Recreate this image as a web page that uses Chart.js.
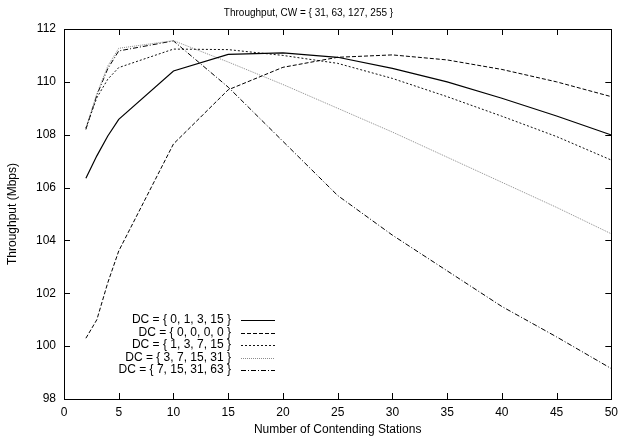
<!DOCTYPE html>
<html>
<head>
<meta charset="utf-8">
<script src="https://cdn.jsdelivr.net/npm/chart.js@4.4.1/dist/chart.umd.min.js"></script>
<style>
html, body { margin: 0; padding: 0; background: #fff; }
#wrap { width: 624px; height: 441px; }
</style>
</head>
<body>
<div id="wrap"><canvas id="chart"></canvas></div>
<script>
// stations on the x axis
const stations = [2, 3, 4, 5, 10, 15, 20, 25, 30, 35, 40, 45, 50];

const seriesNames = [
  'DC = { 0, 1, 3, 15 }',
  'DC = { 0, 0, 0, 0 }',
  'DC = { 1, 3, 7, 15 }',
  'DC = { 3, 7, 15, 31 }',
  'DC = { 7, 15, 31, 63 }'
];

// throughput in Mbps
const dc0_1_3_15 = [106.35, 107.2, 107.95, 108.58, 110.41, 111.04, 111.1, 110.93, 110.51, 110.0, 109.38, 108.71, 107.99];
const dc0_0_0_0 = [100.3, 101.0, 102.4, 103.6, 107.65, 109.7, 110.55, 110.93, 111.02, 110.83, 110.47, 110.0, 109.44];
const dc1_3_7_15 = [108.25, 109.4, 110.1, 110.54, 111.24, 111.22, 111.0, 110.7, 110.13, 109.44, 108.7, 107.93, 107.04];
const dc3_7_15_31 = [108.25, 109.55, 110.6, 111.27, 111.56, 110.75, 109.9, 109.0, 108.1, 107.15, 106.2, 105.25, 104.25];
const dc7_15_31_63 = [108.2, 109.5, 110.5, 111.17, 111.55, 109.8, 107.75, 105.7, 104.2, 102.85, 101.5, 100.35, 99.15];

const FONT = '"Liberation Sans", Arial, Helvetica, sans-serif';

function pts(vals) {
  return vals.map((v, i) => ({ x: stations[i], y: v }));
}

function ds(label, vals, color, dash, width) {
  return {
    label: label,
    data: pts(vals),
    borderColor: color,
    borderDash: dash,
    borderWidth: width,
    pointRadius: 0,
    tension: 0,
    fill: false
  };
}

// frame, inward ticks on all sides, and the legend inside the plot
const gnuplotLook = {
  id: 'gnuplotLook',
  afterDraw(chart) {
    const { ctx, chartArea: a, scales: { x, y } } = chart;
    ctx.save();
    ctx.strokeStyle = '#000';
    ctx.lineWidth = 1;
    ctx.setLineDash([]);
    ctx.strokeRect(Math.round(a.left) + 0.5, Math.round(a.top) + 0.5,
      Math.round(a.width), Math.round(a.height));
    const len = 6;
    ctx.beginPath();
    x.ticks.forEach(t => {
      const px = Math.round(x.getPixelForValue(t.value)) + 0.5;
      ctx.moveTo(px, a.bottom); ctx.lineTo(px, a.bottom - len);
      ctx.moveTo(px, a.top); ctx.lineTo(px, a.top + len);
    });
    y.ticks.forEach(t => {
      const py = Math.round(y.getPixelForValue(t.value)) + 0.5;
      ctx.moveTo(a.left, py); ctx.lineTo(a.left + len, py);
      ctx.moveTo(a.right, py); ctx.lineTo(a.right - len, py);
    });
    ctx.stroke();

    // legend
    ctx.font = '12px ' + FONT;
    ctx.fillStyle = '#000';
    ctx.textAlign = 'right';
    ctx.textBaseline = 'middle';
    chart.data.datasets.forEach((d, i) => {
      const ly = 320 + i * 12.5;
      ctx.fillText(d.label, 231, ly);
      ctx.beginPath();
      ctx.strokeStyle = d.borderColor;
      ctx.lineWidth = d.borderWidth;
      ctx.setLineDash(d.borderDash || []);
      ctx.moveTo(241, Math.round(ly) + 0.5);
      ctx.lineTo(275, Math.round(ly) + 0.5);
      ctx.stroke();
    });
    ctx.restore();
  }
};

new Chart(document.getElementById('chart'), {
  type: 'line',
  data: {
    datasets: [
      ds(seriesNames[0], dc0_1_3_15, '#000', [], 1.2),
      ds(seriesNames[1], dc0_0_0_0, '#000', [4, 2], 1),
      ds(seriesNames[2], dc1_3_7_15, '#111', [2, 2], 1),
      ds(seriesNames[3], dc3_7_15_31, '#8c8c8c', [1, 1], 1),
      ds(seriesNames[4], dc7_15_31_63, '#000', [5, 2, 1, 2], 1)
    ]
  },
  options: {
    responsive: true,
    maintainAspectRatio: false,
    animation: false,
    devicePixelRatio: 1,
    layout: { padding: { left: 0, right: 7, top: 0, bottom: 0 } },
    plugins: {
      legend: { display: false },
      tooltip: { enabled: false },
      title: {
        display: true,
        text: 'Throughput, CW = { 31, 63, 127, 255 }',
        color: '#000',
        font: { family: FONT, size: 10, weight: 'normal' },
        padding: { top: 7, bottom: 10 }
      }
    },
    scales: {
      x: {
        type: 'linear',
        min: 0,
        max: 50,
        afterFit: s => { s.height = 42; },
        grid: { display: false, drawTicks: false },
        border: { display: false },
        ticks: { stepSize: 5, color: '#000', padding: 6, maxRotation: 0,
          font: { family: FONT, size: 12 } },
        title: { display: true, text: 'Number of Contending Stations', color: '#000',
          font: { family: FONT, size: 12 }, padding: { top: 0, bottom: 4 } }
      },
      y: {
        min: 98,
        max: 112,
        afterFit: s => { s.width = 64; },
        grid: { display: false, drawTicks: false },
        border: { display: false },
        ticks: { stepSize: 2, color: '#000', padding: 8,
          font: { family: FONT, size: 12 } },
        title: { display: true, text: 'Throughput (Mbps)', color: '#000',
          font: { family: FONT, size: 12 }, padding: { top: 5, bottom: 0 } }
      }
    }
  },
  plugins: [gnuplotLook]
});
</script>
</body>
</html>
